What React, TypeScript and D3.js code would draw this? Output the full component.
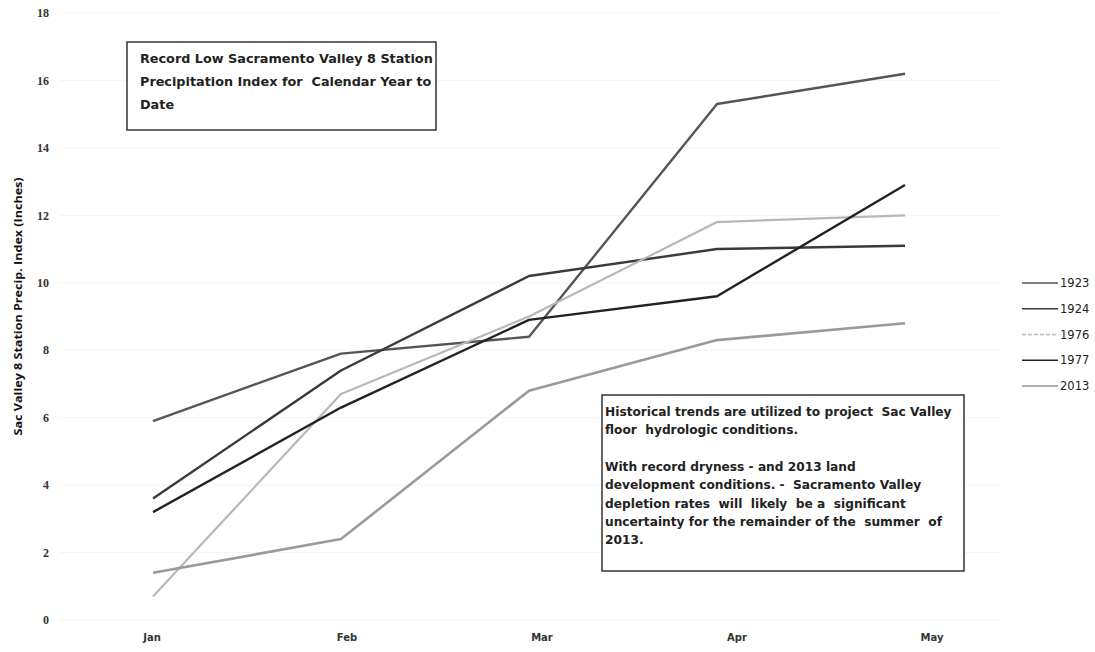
import React from "react"
import * as d3 from "d3"

// months on the x axis
const months = ["Jan", "Feb", "Mar", "Apr", "May"]

// cumulative calendar year precipitation index (inches)
const v1923 = [5.9, 7.9, 8.4, 15.3, 16.2]
const v1924 = [3.6, 7.4, 10.2, 11.0, 11.1]
const v1976 = [0.7, 6.7, 9.0, 11.8, 12.0]
const v1977 = [3.2, 6.3, 8.9, 9.6, 12.9]
const v2013 = [1.4, 2.4, 6.8, 8.3, 8.8]

const yTicks = [0, 2, 4, 6, 8, 10, 12, 14, 16, 18]

const note1 = [
  "Record Low Sacramento Valley 8 Station",
  "Precipitation Index for  Calendar Year to",
  "Date",
]
const note2 = [
  "Historical trends are utilized to project  Sac Valley",
  "floor  hydrologic conditions.",
  "",
  "With record dryness - and 2013 land",
  "development conditions. -  Sacramento Valley",
  "depletion rates  will  likely  be a  significant",
  "uncertainty for the remainder of the  summer  of",
  "2013.",
]

const series = [
  { name: "1923", values: v1923, color: "#555555", width: 2.4 },
  { name: "1924", values: v1924, color: "#3a3a3a", width: 2.4 },
  { name: "1976", values: v1976, color: "#b8b8b8", width: 2.2 },
  { name: "1977", values: v1977, color: "#222222", width: 2.4 },
  { name: "2013", values: v2013, color: "#9a9a9a", width: 2.6 },
]

export default function App() {
  const W = 1095
  const H = 652

  const x = d3.scalePoint<string>().domain(months).range([153, 905])
  // month labels sit slightly wider apart than the data points in the source
  const xLabel = d3.scalePoint<string>().domain(months).range([152, 932])
  const y = d3.scaleLinear().domain([0, 18]).range([620, 13])

  const line = d3
    .line<number>()
    .x((_, i) => x(months[i]) ?? 0)
    .y((d) => y(d))

  const legendY = d3.scalePoint<string>().domain(series.map((s) => s.name)).range([283, 386])

  return (
    <div style={{ position: "absolute", left: 0, top: 0 }}>
      <svg width={W} height={H} style={{ display: "block", background: "#fff" }}>
        {/* faint gridlines */}
        {yTicks.map((t) => (
          <line key={"g" + t} x1={60} x2={1000} y1={y(t)} y2={y(t)} stroke="#f5f5f5" strokeWidth={1} />
        ))}

        {/* y tick labels */}
        {yTicks.map((t) => (
          <text
            key={"yt" + t}
            x={49}
            y={y(t)}
            dy="0.35em"
            textAnchor="end"
            fontFamily="Liberation Serif"
            fontWeight="bold"
            fontSize={12}
            fill="#333"
          >
            {t}
          </text>
        ))}

        {/* y axis title */}
        <text
          transform={`translate(22,${y(9.3)}) rotate(-90)`}
          textAnchor="middle"
          fontFamily="Open Sans"
          fontWeight="bold"
          fontSize={10}
          fill="#111"
          textLength={258}
          lengthAdjust="spacingAndGlyphs"
        >
          Sac Valley 8 Station Precip. Index (Inches)
        </text>

        {/* x labels */}
        {months.map((m) => (
          <text
            key={m}
            x={xLabel(m)}
            y={641}
            textAnchor="middle"
            fontFamily="DejaVu Sans"
            fontWeight="bold"
            fontSize={10}
            fill="#333"
          >
            {m}
          </text>
        ))}

        {/* series lines */}
        {series.map((s) => (
          <path
            key={s.name}
            d={line(s.values) ?? ""}
            fill="none"
            stroke={s.color}
            strokeWidth={s.width}
            strokeLinejoin="round"
          />
        ))}

        {/* note box 1 */}
        <rect x={127} y={42} width={309} height={88} fill="#fff" stroke="#333" strokeWidth={1.5} />
        {note1.map((t, i) => (
          <text
            key={"n1" + i}
            x={140}
            y={63 + i * 23}
            fontFamily="DejaVu Sans"
            fontSize={12.8}
            fontWeight="bold"
            fill="#222"
            style={{ whiteSpace: "pre" }}
          >
            {t}
          </text>
        ))}

        {/* note box 2 */}
        <rect x={602} y={395} width={362} height={176} fill="#fff" stroke="#333" strokeWidth={1.5} />
        {note2.map((t, i) => (
          <text
            key={"n2" + i}
            x={605}
            y={416 + i * 18.3}
            fontFamily="DejaVu Sans"
            fontSize={12.2}
            fontWeight="bold"
            fill="#222"
            style={{ whiteSpace: "pre" }}
          >
            {t}
          </text>
        ))}

        {/* legend */}
        {series.map((s) => {
          const ly = legendY(s.name) ?? 0
          return (
            <g key={"lg" + s.name}>
              <line
                x1={1022}
                x2={1058}
                y1={ly}
                y2={ly}
                stroke={s.color}
                strokeWidth={1.6}
                strokeDasharray={s.name === "1976" ? "4,2" : ""}
              />
              <text x={1060} y={ly} dy="0.35em" fontFamily="DejaVu Sans" fontSize={11.5} fill="#222">
                {s.name}
              </text>
            </g>
          )
        })}
      </svg>
    </div>
  )
}
